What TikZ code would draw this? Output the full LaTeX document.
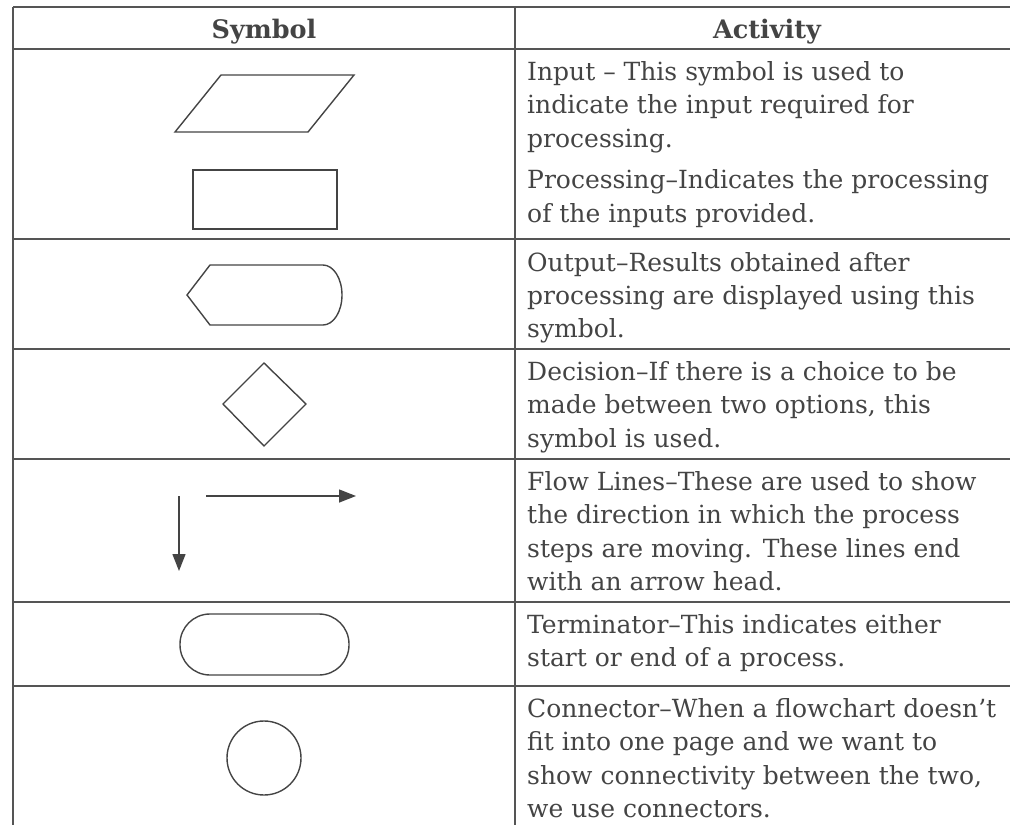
\documentclass[tikz,border=0pt]{standalone}
\usepackage{fontspec}
\setmainfont{DejaVu Serif}
\usetikzlibrary{arrows.meta}
\definecolor{ink}{HTML}{444444}
\definecolor{rule}{HTML}{555555}
\tikzset{
  tline/.style={draw=rule, line width=1.6pt},
  shp/.style={draw=ink, line width=1.4pt, line join=miter},
  flow/.style={draw=ink, line width=1.4pt, -{Triangle[length=17pt,width=13pt]}},
  txt/.style={anchor=base west, inner sep=0pt, text=ink, font=\fontsize{25}{30}\selectfont},
  hdr/.style={anchor=base, inner sep=0pt, text=ink, font=\fontsize{25.5}{30}\selectfont\bfseries},
}
\begin{document}
\begin{tikzpicture}[x=1pt,y=-1pt]
\useasboundingbox (0,0) rectangle (1010,825);
% table rules
\draw[tline] (13,7) -- (1012,7);
\draw[tline] (13,49) -- (1012,49);
\draw[tline] (13,239) -- (1012,239);
\draw[tline] (13,349) -- (1012,349);
\draw[tline] (13,459) -- (1012,459);
\draw[tline] (13,602) -- (1012,602);
\draw[tline] (13,686) -- (1012,686);
\draw[tline] (13,7) -- (13,827);
\draw[tline] (515,7) -- (515,827);
% header
\node[hdr] (hsym) at (264,38) {Symbol};
\node[hdr] (hact) at (767,38) {Activity};
% symbols
\draw[shp] (221,75) -- (354,75) -- (308,132) -- (175,132) -- cycle;
\draw[shp] (193,170) rectangle (337,229);
\draw[shp] (187,295) -- (210,265) -- (323,265)
  .. controls (333.5,265) and (342,278.4) .. (342,295)
  .. controls (342,311.6) and (333.5,325) .. (323,325)
  -- (210,325) -- cycle;
\draw[shp] (264,363) -- (306,404) -- (264,446) -- (223,404) -- cycle;
\coordinate (ra) at (206,496);
\coordinate (rb) at (356,496);
\coordinate (da) at (179,496);
\coordinate (db) at (179,571);
\draw[flow] (ra) -- (rb);
\draw[flow] (da) -- (db);
\draw[shp, rounded corners=30pt] (180,614) rectangle (349,675);
\draw[shp] (264,758) circle (37pt);
% texts
\node[txt] (t1a) at (527,80) {Input -- This symbol is used to};
\node[txt] (t1b) at (527,113.5) {indicate the input required for};
\node[txt] (t1c) at (527,147) {processing.};
\node[txt] (t1d) at (527,188.5) {Processing--Indicates the processing};
\node[txt] (t1e) at (527,222) {of the inputs provided.};
\node[txt] (t2a) at (527,271) {Output--Results obtained after};
\node[txt] (t2b) at (527,304) {processing are displayed using this};
\node[txt] (t2c) at (527,337) {symbol.};
\node[txt] (t3a) at (527,380) {Decision--If there is a choice to be};
\node[txt] (t3b) at (527,413.5) {made between two options, this};
\node[txt] (t3c) at (527,447) {symbol is used.};
\node[txt] (t4a) at (527,490) {Flow Lines--These are used to show};
\node[txt] (t4b) at (527,523.5) {the direction in which the process};
\node[txt] (t4c) at (527,557) {steps are moving. These lines end};
\node[txt] (t4d) at (527,590.5) {with an arrow head.};
\node[txt] (t5a) at (527,633) {Terminator--This indicates either};
\node[txt] (t5b) at (527,666.5) {start or end of a process.};
\node[txt] (t6a) at (527,717) {Connector--When a flowchart doesn’t};
\node[txt] (t6b) at (527,750.5) {fit into one page and we want to};
\node[txt] (t6c) at (527,784) {show connectivity between the two,};
\node[txt] (t6d) at (527,817.5) {we use connectors.};
\end{tikzpicture}
\end{document}
